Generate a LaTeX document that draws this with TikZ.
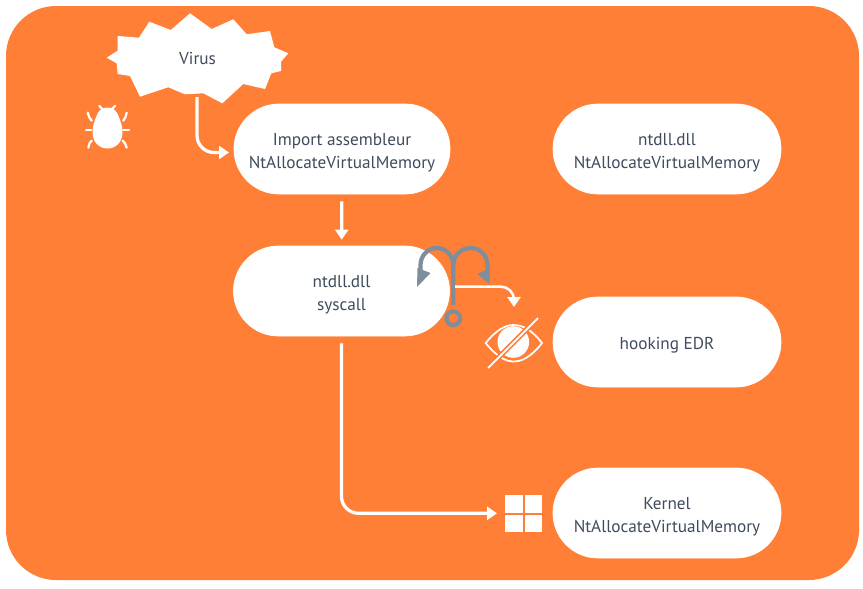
\documentclass[tikz,border=0pt]{standalone}
\usepackage[HTML]{xcolor}
\usepackage{fontspec}
\setmainfont{PT Sans}
\usetikzlibrary{positioning, arrows, arrows.meta}
\definecolor{bgorange}{HTML}{FF7F36}
\definecolor{textgrey}{HTML}{3F4C5E}
\definecolor{hookgrey}{HTML}{7F8E9C}
\newcommand{\droptext}[1]{\raisebox{-2pt}[\height][\depth]{#1}}
\tikzset{
  pill/.style={fill=white, draw=white, rounded corners=9mm, minimum width=43.2mm, minimum height=18mm,
    inner sep=0pt, align=center, text=textgrey, font=\fontsize{9.8}{13.2}\selectfont},
  widepill/.style={pill, minimum width=45.6mm},
  flow/.style={draw=white, line width=0.65mm, -{Triangle[length=2mm,width=2.6mm]}},
  bugleg/.style={draw=white, line width=0.45mm, line cap=round},
  hookline/.style={draw=hookgrey, line width=0.85mm},
}
\begin{document}
\begin{tikzpicture}[x=0.2mm,y=-0.2mm]
\useasboundingbox (0,0) rectangle (863,588);
% Background
\fill[bgorange, rounded corners=10mm] (6,6) rectangle (859,580);

% Virus cloud
\fill[white] (190,13.3) -- (211.7,29) -- (233.3,19.3) -- (246.7,34.3) -- (270,31) -- (274.3,47.3)
  -- (288.3,53.3) -- (281,61.7) -- (281,71) -- (271.3,73.3) -- (265,89) -- (243.3,84)
  -- (222.3,103.3) -- (203.3,93.3) -- (185,94.3) -- (168.3,87.3) -- (140,96.7) -- (130,76)
  -- (117.7,74) -- (116.7,63.3) -- (106.7,57.7) -- (117.7,50.7) -- (117.7,36) -- (139,37.7)
  -- (149.3,21.7) -- (170.7,30) -- cycle;
\node[text=textgrey, font=\fontsize{9.8}{13.2}\selectfont] (virus) at (197.5,58.5) {Virus};

% Bug
\fill[white] (107.5,107.5) .. controls (113,107.5) and (117,111) .. (118.5,116)
  .. controls (120.5,121) and (122.5,126) .. (122.5,132)
  .. controls (122.5,142) and (116,148.5) .. (107.5,148.5)
  .. controls (99,148.5) and (92.5,142) .. (92.5,132)
  .. controls (92.5,126) and (94.5,121) .. (96.5,116)
  .. controls (98,111) and (102,107.5) .. (107.5,107.5) -- cycle;
\draw[bugleg] (99.3,106) -- (102.3,109);
\draw[bugleg] (115,106) -- (112,109);
\draw[bugleg] (87.7,112.7) .. controls (88.5,116) and (90,119) .. (91.7,120.7);
\draw[bugleg] (126.7,112.7) .. controls (126,116) and (125,119) .. (123.3,120.7);
\draw[bugleg] (86,130.3) -- (91.3,130.3);
\draw[bugleg] (123.3,130.3) -- (129,130.3);
\draw[bugleg] (88.3,147.7) .. controls (88.5,144.5) and (90,142) .. (91.7,140.7);
\draw[bugleg] (126.7,147.7) .. controls (126,144.5) and (124.5,142) .. (122.7,140.7);

% Boxes
\node[pill] (import) at (342,149) {\droptext{Import assembleur}\\\droptext{NtAllocateVirtualMemory}};
\node[pill] (syscall) at (341.5,291) {\droptext{ntdll.dll}\\\droptext{syscall}};
\node[widepill] (ntdll) at (667,149) {\droptext{ntdll.dll}\\\droptext{NtAllocateVirtualMemory}};
\node[widepill] (edr) at (667,342) {\droptext{hooking EDR}};
\node[widepill] (kernel) at (667,513) {\droptext{Kernel}\\\droptext{NtAllocateVirtualMemory}};

% Free ends of the arrows
\coordinate (virusout) at (197,97);
\coordinate (importin) at (229,152.5);
\coordinate (hookout) at (455,286.7);
\coordinate (eyein) at (514,307);
\coordinate (winin) at (497,513.3);

% Arrows
\draw[flow, rounded corners=3.4mm] (virusout) |- (importin);
\draw[flow, shorten <=1.4mm, shorten >=1.2mm] (import) -- (syscall);
\draw[flow, rounded corners=3.4mm, shorten <=1.4mm] (syscall.south) |- (winin);

% Hook
\draw[hookline] (453.3,305) -- (453.3,265)
  .. controls (453.3,255.6) and (445.7,248) .. (437,248)
  .. controls (428,248) and (420.5,255.6) .. (420.5,265) -- (420.5,277);
\draw[hookline] (453.3,265)
  .. controls (453.3,255.6) and (461,248) .. (470.5,248)
  .. controls (480,248) and (487.5,255.6) .. (487.5,265) -- (487.5,277);
\fill[hookgrey] (417,287) -- (417.5,268) -- (430.5,273) -- cycle;
\fill[hookgrey] (489.5,284.5) -- (490,268) -- (477.5,274) -- cycle;
\draw[hookline] (453.3,318.3) circle (6.8);
\draw[flow, line width=0.5mm, rounded corners=2.6mm] (hookout) -| (eyein);

% Eye
\draw[draw=white, line width=0.35mm] (485.7,343) .. controls (497,329) and (506,325) .. (513.5,325)
  .. controls (522,325) and (531,329) .. (542,343)
  .. controls (531,357) and (522,361.5) .. (513.5,361.5)
  .. controls (506,361.5) and (497,357) .. (485.7,343) -- cycle;
\fill[white] (513.3,342) circle (15.8);
\draw[bgorange, line width=1mm] (538,318) -- (488,368);
\draw[white, line width=0.35mm] (538,318) -- (488,368);

% Windows logo
\fill[white] (505.3,495) rectangle (522.7,512.7);
\fill[white] (524.7,495) rectangle (542.3,512.7);
\fill[white] (505.3,514.7) rectangle (522.7,532);
\fill[white] (524.7,514.7) rectangle (542.3,532);
\end{tikzpicture}
\end{document}
